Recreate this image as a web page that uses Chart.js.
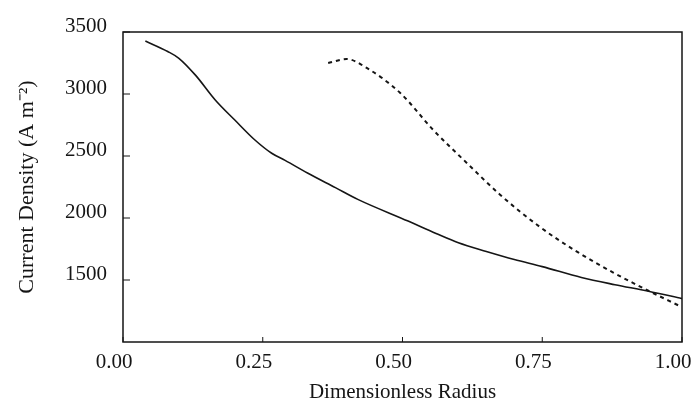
<!DOCTYPE html>
<html>
<head>
<meta charset="utf-8">
<script src="https://cdn.jsdelivr.net/npm/chart.js@4"></script>
<style>
  html, body { margin: 0; padding: 0; background: #fff; }
  #wrap { width: 695px; height: 408px; }
</style>
</head>
<body>
<div id="wrap"><canvas id="chart"></canvas></div>
<script>
const solidX = [0.04, 0.08, 0.10, 0.13, 0.165, 0.20, 0.236, 0.266, 0.29, 0.33, 0.38, 0.42, 0.51, 0.56, 0.60, 0.65, 0.70, 0.75, 0.82, 0.88, 0.94, 1.00];
const solidY = [3427, 3343, 3288, 3150, 2952, 2790, 2629, 2522, 2465, 2363, 2245, 2150, 1975, 1875, 1800, 1730, 1665, 1608, 1520, 1462, 1410, 1350];

const dashX = [0.367, 0.40, 0.436, 0.496, 0.555, 0.615, 0.674, 0.746, 0.815, 0.877, 0.937, 0.996];
const dashY = [3250, 3282, 3210, 3008, 2710, 2444, 2190, 1927, 1720, 1560, 1420, 1290];

const xTicks = [0, 0.25, 0.5, 0.75, 1];
const yTicks = [1500, 2000, 2500, 3000, 3500];

const toPoints = (xs, ys) => xs.map((x, i) => ({ x: x, y: ys[i] }));

const serif = 'Liberation Serif';
const ink = '#151515';

// frame + inward tick marks, like the original plot
const frame = {
  id: 'frame',
  afterDatasetsDraw(chart) {
    const { ctx, chartArea: a, scales } = chart;
    ctx.save();
    ctx.strokeStyle = ink;
    ctx.lineWidth = 1.5;
    ctx.strokeRect(a.left, a.top, a.right - a.left, a.bottom - a.top);
    ctx.lineWidth = 1;
    ctx.beginPath();
    yTicks.forEach(v => {
      const py = scales.y.getPixelForValue(v);
      ctx.moveTo(a.left, py);
      ctx.lineTo(a.left + 7, py);
    });
    xTicks.forEach(v => {
      const px = scales.x.getPixelForValue(v);
      ctx.moveTo(px, a.bottom);
      ctx.lineTo(px, a.bottom - 5);
    });
    ctx.stroke();
    ctx.restore();
  }
};

new Chart(document.getElementById('chart'), {
  type: 'line',
  data: {
    datasets: [
      {
        label: 'solid',
        data: toPoints(solidX, solidY),
        borderColor: ink,
        borderWidth: 1.6,
        pointRadius: 0,
        cubicInterpolationMode: 'monotone',
        fill: false
      },
      {
        label: 'dashed',
        data: toPoints(dashX, dashY),
        borderColor: ink,
        borderWidth: 2,
        borderDash: [4, 4],
        pointRadius: 0,
        cubicInterpolationMode: 'monotone',
        fill: false
      }
    ]
  },
  plugins: [frame],
  options: {
    responsive: true,
    maintainAspectRatio: false,
    animation: false,
    layout: { padding: { left: 0, top: 32, right: 13, bottom: 0 } },
    plugins: {
      legend: { display: false },
      tooltip: { enabled: false }
    },
    scales: {
      x: {
        type: 'linear',
        min: 0,
        max: 1,
        afterBuildTicks: s => { s.ticks = xTicks.map(v => ({ value: v })); },
        afterFit: s => { s.height = 66; s.paddingLeft = 0; s.paddingRight = 0; },
        grid: { display: false },
        border: { display: false },
        ticks: {
          padding: 0,
          labelOffset: -9,
          color: ink,
          font: { family: serif, size: 21 },
          maxRotation: 0,
          callback: v => v.toFixed(2)
        },
        title: {
          display: true,
          text: 'Dimensionless Radius',
          color: ink,
          font: { family: serif, size: 21 },
          padding: { top: 10, bottom: 3 }
        }
      },
      y: {
        min: 1000,
        max: 3500,
        afterBuildTicks: s => { s.ticks = yTicks.map(v => ({ value: v })); },
        afterFit: s => { s.width = 123; },
        grid: { display: false },
        border: { display: false },
        ticks: {
          padding: 8,
          labelOffset: -6,
          color: ink,
          font: { family: serif, size: 21 },
          callback: v => String(v)
        },
        title: {
          display: true,
          text: 'Current Density (A m\u207B\u00B2)',
          color: ink,
          font: { family: serif, size: 22 },
          padding: { top: 14, bottom: 0 }
        }
      }
    }
  }
});
</script>
</body>
</html>
